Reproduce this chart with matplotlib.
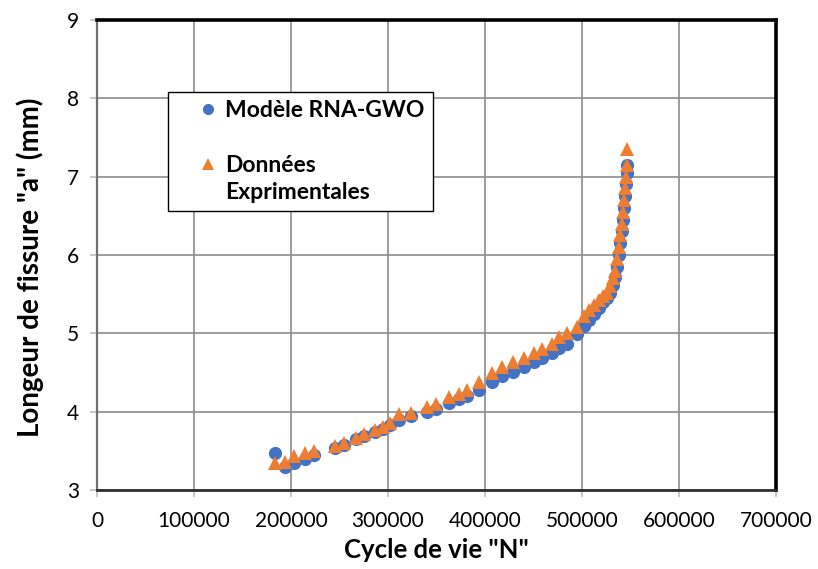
import matplotlib
matplotlib.use("Agg")
import matplotlib.pyplot as plt
from matplotlib.lines import Line2D
from matplotlib.legend_handler import HandlerLine2D

plt.rcParams['font.family'] = ['Lato', 'DejaVu Sans']

# Number of cycles (shared by both series)
cycles = [183000, 194000, 203500, 214000, 224000, 245000, 255000, 267000, 275000,
          287000, 294500, 302000, 311500, 324000, 340000, 349500, 362500, 373000,
          381500, 393500, 407000, 417500, 428500, 440500, 450000, 458500, 469000,
          476500, 485000, 495000, 502000, 507000, 512000, 517000, 522000, 526000,
          529000, 532000, 534000, 536000, 538000, 539500, 541000, 542500, 543500,
          544500, 545500, 546000, 546500]

# Crack length predicted by the RNA-GWO model (mm)
model_a = [3.47, 3.30, 3.34, 3.40, 3.45, 3.54, 3.58, 3.65, 3.69,
           3.74, 3.78, 3.83, 3.90, 3.94, 4.00, 4.04, 4.11, 4.16,
           4.20, 4.28, 4.38, 4.45, 4.51, 4.57, 4.64, 4.68, 4.75,
           4.81, 4.87, 4.99, 5.10, 5.17, 5.25, 5.32, 5.40, 5.45,
           5.52, 5.62, 5.72, 5.85, 6.00, 6.15, 6.30, 6.45, 6.60,
           6.75, 6.90, 7.05, 7.15]

# Measured crack length (mm)
exp_a = [3.35, 3.36, 3.43, 3.47, 3.50, 3.56, 3.60, 3.67, 3.71,
         3.77, 3.81, 3.86, 3.97, 3.98, 4.06, 4.10, 4.19, 4.23,
         4.28, 4.38, 4.49, 4.57, 4.63, 4.69, 4.75, 4.80, 4.87,
         4.95, 5.00, 5.08, 5.22, 5.30, 5.36, 5.42, 5.48, 5.52,
         5.60, 5.70, 5.80, 5.95, 6.10, 6.25, 6.40, 6.55, 6.70,
         6.85, 7.00, 7.15, 7.35]

x_ticks = [0, 100000, 200000, 300000, 400000, 500000, 600000, 700000]
y_ticks = [3, 4, 5, 6, 7, 8, 9]

blue = '#4472C4'
orange = '#ED7D31'

fig = plt.figure(figsize=(8.18, 5.69), dpi=100)
ax = fig.add_axes([0.1186, 0.1388, 0.8301, 0.8261])

ax.plot(cycles, model_a, ls='none', marker='o', ms=9.5, color=blue,
        markeredgewidth=0, zorder=3)
ax.plot(cycles, exp_a, ls='none', marker='^', ms=10.5, color=orange,
        markeredgewidth=0, zorder=4)

ax.set_xlim(0, 700000)
ax.set_ylim(3, 9)
ax.set_xticks(x_ticks)
ax.set_yticks(y_ticks)
ax.set_xticklabels([str(v) for v in x_ticks])
ax.set_yticklabels([str(v) for v in y_ticks])
ax.grid(True, color='#8c8c8c', lw=1.2)
ax.set_axisbelow(True)

ax.tick_params(axis='both', labelsize=15, length=5, width=1.2,
               color='#bfbfbf', direction='out')
ax.tick_params(axis='x', pad=10)
ax.tick_params(axis='y', pad=8)

for side in ('top', 'right'):
    ax.spines[side].set_color('black')
    ax.spines[side].set_linewidth(2.6)
ax.spines['left'].set_color('#6f6f6f')
ax.spines['left'].set_linewidth(1.6)
ax.spines['bottom'].set_color('#303030')
ax.spines['bottom'].set_linewidth(2.0)

ax.set_xlabel('Cycle de vie "N"', fontsize=18.5, fontweight='bold', labelpad=5)
ax.set_ylabel('Longeur de fissure "a" (mm)', fontsize=20, fontweight='bold')
ax.yaxis.set_label_coords(-0.078, 0.474)

blank = Line2D([], [], ls='none', marker=None)
h_model = Line2D([], [], ls='none', marker='o', ms=8, color=blue, markeredgewidth=0)
h_exp = Line2D([], [], ls='none', marker='^', ms=8.5, color=orange, markeredgewidth=0)
handles = [h_model, blank, h_exp, blank]
labels = ['Modèle RNA-GWO', ' ', 'Données', 'Exprimentales']
shifted = HandlerLine2D(xpad=0.9)
leg = ax.legend(handles, labels, loc='upper left', bbox_to_anchor=(0.1046, 0.847),
                prop={'size': 16.5, 'weight': 'bold'}, frameon=True, fancybox=False,
                edgecolor='black', framealpha=1, handlelength=1.85,
                handletextpad=0.3, labelspacing=0.28, borderpad=0.35,
                borderaxespad=0, alignment='left',
                handler_map={h_model: shifted, h_exp: shifted})
leg.get_frame().set_linewidth(1.0)

fig.savefig('out.png', dpi=100)
